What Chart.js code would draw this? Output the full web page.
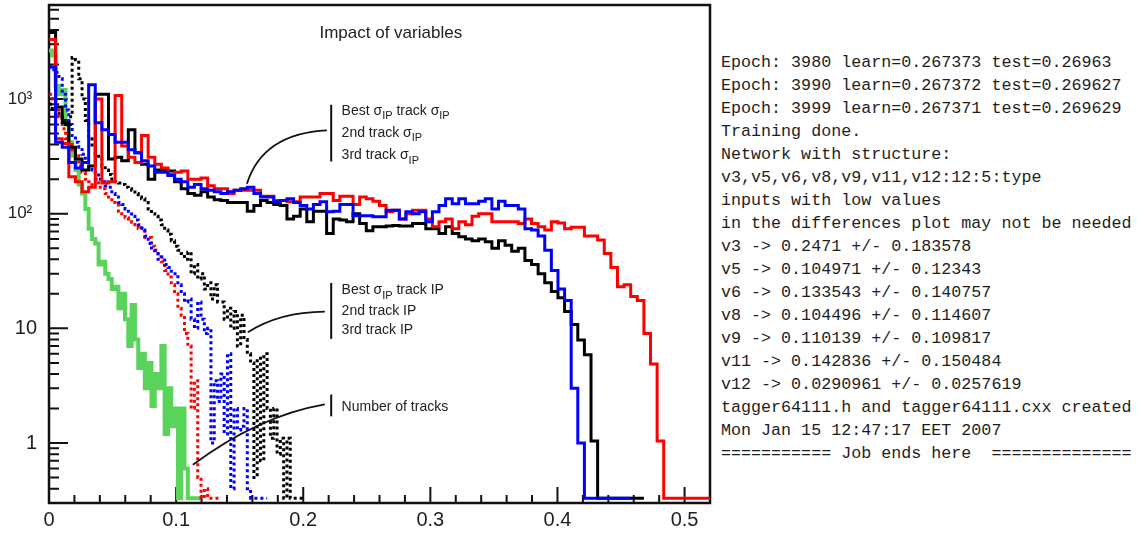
<!DOCTYPE html>
<html>
<head>
<meta charset="utf-8">
<script src="https://cdn.jsdelivr.net/npm/chart.js@4.4.1/dist/chart.umd.min.js"></script>
<style>
  html, body { margin: 0; padding: 0; background: #fff; }
  body { width: 1145px; height: 538px; overflow: hidden; position: relative; }
  #plot { position: absolute; left: 0; top: 0; width: 715px; height: 538px; }
  #log { position: absolute; left: 721px; top: 51px; margin: 0;
         font-family: "Liberation Mono", "DejaVu Sans Mono", monospace;
         font-size: 16.7px; line-height: 23px; color: #1e1e1e; }
</style>
</head>
<body>
<div id="plot"><canvas id="chart"></canvas></div>
<pre id="log"></pre>
<script>
// histogram binning
const coarseBin = 0.0052;   // sigma_IP histograms
const fineBin = 0.0026;     // IP histograms and number of tracks

// solid: sigma_IP of the tracks
const bestSigma = [3800, 850, 620, 380, 300, 240, 260, 1100, 1100, 300,
  310, 290, 540, 340, 270, 200, 240, 240, 235, 190,
  165, 150, 145, 155, 140, 132, 130, 125, 125, 125,
  105, 118, 130, 125, 120, 118, 90, 95, 110, 85,
  105, 105, 67, 90, 88, 85, 100, 82, 71, 77,
  77, 78, 79, 78, 78, 82, 82, 74, 74, 67,
  77, 67, 63, 60, 58, 60, 57, 50, 58, 53,
  47, 50, 39, 36, 30, 25, 21, 18.5, 14, 10.8,
  7.9, 5.9, 1.04, 0, 0, 0, 0, 0, 0, 0];
const secondSigma = [3300, 450, 410, 210, 190, 155, 170, 1000, 185, 190,
  1070, 390, 310, 280, 480, 310, 270, 250, 220, 230,
  235, 200, 200, 205, 175, 165, 165, 150, 160, 160,
  160, 160, 142, 142, 130, 130, 127, 127, 140, 140,
  140, 150, 150, 130, 142, 142, 120, 140, 135, 128,
  118, 104, 107, 90, 100, 107, 107, 90, 77, 85,
  90, 74, 85, 80, 95, 100, 100, 85, 85, 85,
  85, 82, 90, 82, 77, 72, 85, 83, 74, 76,
  76, 64, 64, 59, 45, 34, 23, 24, 19, 17.5,
  9, 4.9, 1.04, 0, 0, 0, 0, 0, 0, 0];
const thirdSigma = [1900, 420, 380, 280, 250, 280, 1330, 620, 540, 490,
  420, 420, 360, 340, 290, 260, 230, 230, 215, 200,
  190, 170, 180, 165, 160, 155, 150, 155, 160, 165,
  170, 150, 140, 140, 127, 130, 135, 125, 118, 110,
  120, 127, 104, 105, 120, 120, 96, 96, 96, 94,
  94, 107, 107, 90, 104, 100, 104, 85, 104, 118,
  135, 122, 135, 122, 122, 128, 135, 110, 128, 118,
  118, 110, 74, 72, 64, 48, 32, 22, 17.5, 3,
  1, 0, 0, 0, 0, 0, 0, 0];

// dotted: IP of the tracks
const bestIP = [900, 800, 750, 700, 650, 600, 700, 2300, 2200, 1500,
  1000, 650, 450, 380, 330, 300, 260, 240, 220, 200,
  190, 185, 180, 170, 165, 160, 150, 140, 135, 125,
  110, 100, 95, 88, 80, 72, 66, 58, 52, 48,
  45, 40, 46, 30, 36, 27, 30, 22, 25, 18,
  24, 17, 17, 12, 15, 10, 14, 7, 13, 8,
  6, 5, 0.5, 5.5, 0.7, 6, 2, 1.1, 2, 0.8,
  1.1, 0, 1.1, 0, 0, 0, 0];
const secondIP = [1100, 1000, 800, 700, 550, 450, 400, 360, 320, 260,
  230, 200, 190, 175, 200, 170, 165, 150, 140, 125,
  120, 105, 100, 92, 90, 84, 80, 74, 75, 62,
  62, 52, 48, 42, 38, 32, 28, 24, 20, 15,
  13, 9, 7, 2, 3.5, 0.5, 0, 0.4, 0, 0,
  0, 0];
const thirdIP = [1900, 1800, 1700, 1500, 1100, 800, 600, 480, 420, 380,
  330, 280, 260, 240, 230, 200, 190, 175, 170, 150,
  140, 125, 120, 110, 105, 95, 88, 80, 72, 64,
  55, 48, 45, 40, 42, 36, 34, 30, 30, 24,
  20, 17, 18, 12, 10, 17, 12, 9, 10, 1,
  3.5, 2.3, 4, 1.2, 6, 0.4, 2, 1.3, 1.4, 2,
  0.4, 0, 0, 0, 0, 0];

// green: number of tracks
const nTracks = [2650, 2400, 1300, 1100, 1200, 600, 420, 320, 240, 180,
  150, 110, 74, 60, 55, 36, 38, 30, 27, 22,
  23, 15, 20, 12, 7, 16, 8, 4.5, 6, 3,
  5, 2.1, 4, 3, 7, 1.2, 3, 1.4, 2, 0,
  2, 0.6, 0, 0, 0, 0];

// axes
const xMin = 0, xMax = 0.52, xMinorStep = 0.02;
const yMin = 0.33, yMax = 6600;
const xTickValues = [0, 0.1, 0.2, 0.3, 0.4, 0.5];
const xTickLabels = ['0', '0.1', '0.2', '0.3', '0.4', '0.5'];
const yTickValues = [1, 10, 100, 1000];
const yTickLabels = ['1', '10', '10\u00b2 ', '10\u00b3 '];

const titleText = 'Impact of variables';

// text labels drawn in the frame, anchored in data coordinates
const notes = [
  { barX: 0.222, textX: 0.2302, bar: [890, 285], base: [728, 466, 298],
    lines: ['Best \u03c3_{IP} track \u03c3_{IP}', '2nd track \u03c3_{IP}', '3rd track \u03c3_{IP}'],
    curve: [[0.1557, 182], [0.168, 500], [0.2186, 533]] },
  { barX: 0.222, textX: 0.2302, bar: [24.9, 8.1], base: [19.8, 13.2, 8.88],
    lines: ['Best \u03c3_{IP} track IP', '2nd track IP', '3rd track IP'],
    curve: [[0.1564, 9.24], [0.1812, 13.9], [0.217, 14.0]] },
  { barX: 0.222, textX: 0.2302, bar: [2.65, 1.71], base: [1.89],
    lines: ['Number of tracks'],
    curve: [[0.1132, 0.646], [0.1651, 1.726], [0.217, 2.17]] }
];

const logLines = [
  'Epoch: 3980 learn=0.267373 test=0.26963',
  'Epoch: 3990 learn=0.267372 test=0.269627',
  'Epoch: 3999 learn=0.267371 test=0.269629',
  'Training done.',
  'Network with structure:',
  'v3,v5,v6,v8,v9,v11,v12:12:5:type',
  'inputs with low values',
  'in the differences plot may not be needed',
  'v3 -> 0.2471 +/- 0.183578',
  'v5 -> 0.104971 +/- 0.12343',
  'v6 -> 0.133543 +/- 0.140757',
  'v8 -> 0.104496 +/- 0.114607',
  'v9 -> 0.110139 +/- 0.109817',
  'v11 -> 0.142836 +/- 0.150484',
  'v12 -> 0.0290961 +/- 0.0257619',
  'tagger64111.h and tagger64111.cxx created',
  'Mon Jan 15 12:47:17 EET 2007',
  '=========== Job ends here  =============='
];
document.getElementById('log').textContent = logLines.join('\n');

const FONT = '"Liberation Sans", Arial, Helvetica, sans-serif';
Chart.defaults.font.family = FONT;

function histPoints(values, width) {
  // empty bins are drawn along the bottom of the frame, like ROOT does
  const pts = values.map((v, i) => ({x: i * width, y: v > 0 ? v : yMin}));
  pts.push({x: values.length * width, y: pts[pts.length - 1].y});
  return pts;
}

function histDataset(label, values, width, color, dotted, lw) {
  return {
    label: label,
    data: histPoints(values, width),
    borderColor: color,
    borderWidth: lw,
    borderDash: dotted ? [3, 3] : [],
    stepped: 'before',
    pointRadius: 0,
    fill: false,
    borderJoinStyle: 'miter',
    borderCapStyle: 'butt'
  };
}

function drawRich(ctx, str, x, y, size) {
  const parts = str.split(/_\{([^}]*)\}/);
  parts.forEach((p, i) => {
    if (!p) return;
    const sub = i % 2 === 1;
    ctx.font = (sub ? Math.round(size * 0.78) : size) + 'px ' + FONT;
    ctx.fillText(p, x, y + (sub ? size * 0.32 : 0));
    x += ctx.measureText(p).width;
  });
}

const frameAndNotes = {
  id: 'frameAndNotes',
  beforeDatasetsDraw(chart) {
    const {ctx, chartArea: a, scales: {x, y}} = chart;
    ctx.save();
    ctx.strokeStyle = '#111';
    ctx.lineWidth = 2;
    ctx.beginPath();
    // log ticks, pointing inwards
    for (let k = -1; k <= 3; k++) {
      for (let m = 1; m <= 9; m++) {
        const v = m * Math.pow(10, k);
        if (v < y.min || v > y.max) continue;
        const py = y.getPixelForValue(v);
        ctx.moveTo(a.left, py);
        ctx.lineTo(a.left + (m === 1 ? 19 : 10), py);
      }
    }
    for (let i = 0; i * xMinorStep <= x.max + 1e-9; i++) {
      const px = x.getPixelForValue(i * xMinorStep);
      ctx.moveTo(px, a.bottom);
      ctx.lineTo(px, a.bottom - (i % 5 === 0 ? 16 : 8));
    }
    ctx.stroke();
    ctx.lineWidth = 2.5;
    ctx.strokeRect(a.left, a.top, a.right - a.left, a.bottom - a.top);
    ctx.restore();
  },
  afterDatasetsDraw(chart) {
    const {ctx, scales: {x, y}} = chart;
    ctx.save();
    ctx.fillStyle = '#222';
    ctx.strokeStyle = '#111';
    ctx.textBaseline = 'alphabetic';

    ctx.font = '17px ' + FONT;
    ctx.textAlign = 'center';
    ctx.fillText(titleText, x.getPixelForValue(0.2689), y.getPixelForValue(3422));
    ctx.textAlign = 'left';

    notes.forEach(n => {
      ctx.lineWidth = 2;
      ctx.beginPath();
      const bx = x.getPixelForValue(n.barX);
      ctx.moveTo(bx, y.getPixelForValue(n.bar[0]));
      ctx.lineTo(bx, y.getPixelForValue(n.bar[1]));
      ctx.stroke();

      ctx.lineWidth = 1.8;
      ctx.beginPath();
      const c = n.curve.map(p => [x.getPixelForValue(p[0]), y.getPixelForValue(p[1])]);
      ctx.moveTo(c[0][0], c[0][1]);
      ctx.quadraticCurveTo(c[1][0], c[1][1], c[2][0], c[2][1]);
      ctx.stroke();

      n.lines.forEach((t, i) => {
        drawRich(ctx, t, x.getPixelForValue(n.textX), y.getPixelForValue(n.base[i]), 14);
      });
    });
    ctx.restore();
  }
};

const datasets = [
  histDataset('3rd track \u03c3IP', thirdSigma, coarseBin, '#0000ff', false, 3),
  histDataset('2nd track \u03c3IP', secondSigma, coarseBin, '#ff0000', false, 3),
  histDataset('Best \u03c3IP track \u03c3IP', bestSigma, coarseBin, '#000000', false, 3),
  histDataset('3rd track IP', thirdIP, fineBin, '#0000ff', true, 3),
  histDataset('2nd track IP', secondIP, fineBin, '#ff0000', true, 3),
  histDataset('Best \u03c3IP track IP', bestIP, fineBin, '#000000', true, 3),
  histDataset('Number of tracks', nTracks, fineBin, '#5ad35a', false, 4)
];

new Chart(document.getElementById('chart'), {
  type: 'line',
  data: {datasets: datasets},
  options: {
    responsive: true,
    maintainAspectRatio: false,
    animation: false,
    devicePixelRatio: 1,
    layout: {padding: {top: 5, right: 5, left: 0, bottom: 0}},
    plugins: {legend: {display: false}, tooltip: {enabled: false}},
    elements: {line: {tension: 0}},
    scales: {
      x: {
        type: 'linear', min: xMin, max: xMax,
        grid: {display: false, drawTicks: false},
        border: {display: false},
        afterBuildTicks: s => { s.ticks = xTickValues.map(v => ({value: v})); },
        afterFit: s => { s.height = 35; s.paddingLeft = 0; s.paddingRight = 0; },
        ticks: {
          autoSkip: false, maxRotation: 0, padding: 5, color: '#1e1e1e',
          font: {size: 20},
          callback: (v, i) => xTickLabels[i]
        }
      },
      y: {
        type: 'logarithmic', min: yMin, max: yMax,
        grid: {display: false, drawTicks: false},
        border: {display: false},
        afterBuildTicks: s => { s.ticks = yTickValues.map(v => ({value: v})); },
        afterFit: s => { s.width = 49; s.paddingTop = 0; s.paddingBottom = 0; },
        ticks: {
          autoSkip: false, padding: 12, color: '#1e1e1e',
          font: c => ({size: yTickLabels[c.index] && yTickLabels[c.index].length > 2 ? 17 : 20}),
          callback: (v, i) => yTickLabels[i]
        }
      }
    }
  },
  plugins: [frameAndNotes]
});
</script>
</body>
</html>
